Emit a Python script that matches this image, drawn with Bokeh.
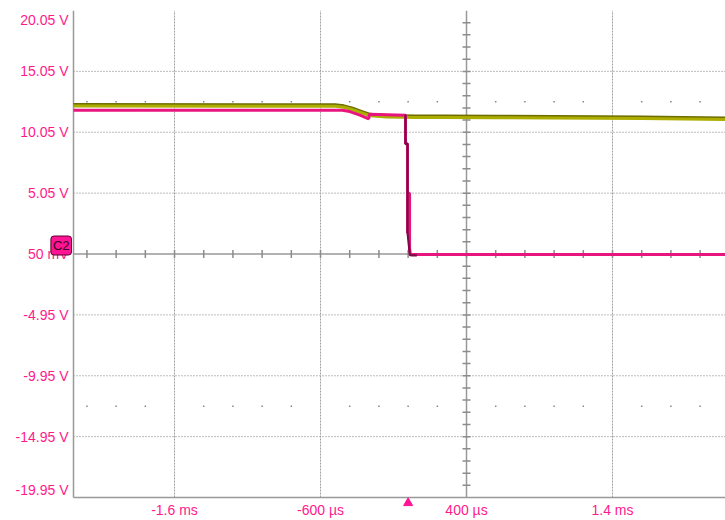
import numpy as np
from bokeh.plotting import figure
from bokeh.models import Range1d, FixedTicker, Label
from bokeh.embed import file_html
from bokeh.resources import INLINE

# ---- data (time in ms, voltage in V) ----
t_ch1 = [-2.292, -0.50, -0.44, -0.38, -0.32, -0.26, -0.15, 0.05, 0.24, 0.60, 1.00, 1.60, 2.174]
v_ch1 = [12.20, 12.18, 12.10, 11.90, 11.65, 11.40, 11.30, 11.26, 11.26, 11.24, 11.22, 11.18, 11.10]

t_ch2 = [-2.292, -0.45, -0.40, -0.33, -0.27, -0.265, -0.02, -0.018, -0.018, -0.004, -0.004,
         0.008, 0.008, 0.010, 0.010, 0.016, 0.20, 1.00, 2.174]
v_ch2 = [11.85, 11.85, 11.75, 11.45, 11.15, 11.52, 11.45, 11.45, 9.10, 9.10, 1.80,
         1.80, 5.05, 5.05, 0.50, 0.00, 0.02, 0.02, 0.02]

t_drop = [-0.022, -0.018, -0.018, -0.004, -0.004, 0.004, 0.012, 0.030, 0.060]
v_drop = [11.45, 11.45, 9.10, 9.10, 1.80, 0.90, -0.05, -0.06, -0.06]

y_ticks = [-19.95, -14.95, -9.95, -4.95, 0.05, 5.05, 10.05, 15.05, 20.05]
y_labels = ["-19.95 V", "-14.95 V", "-9.95 V", "-4.95 V", "50 mV", "5.05 V", "10.05 V", "15.05 V", "20.05 V"]
x_ticks = [-1.6, -0.6, 0.4, 1.4]
x_labels = ["-1.6 ms", "-600 µs", "400 µs", "1.4 ms"]
trigger_t = 0.0
center_t = 0.4
center_v = 0.05

PINK_TXT = "#ff1a8c"
AXIS = "#999999"

# screen display extent (data window)
x0, x1 = -2.292, 2.174
y0, y1 = -19.95, 20.05
px_per_v = 12.2
px_per_ms = 146.0

# frame extends a little beyond the display window (room for channel / trigger markers)
p = figure(width=725, height=520,
           x_range=Range1d(x0 - 25 / px_per_ms, x1),
           y_range=Range1d(y0 - 12 / px_per_v, y1),
           output_backend="svg", toolbar_location=None,
           min_border_left=48, min_border_right=0, min_border_top=10, min_border_bottom=10)
p.outline_line_color = None
p.background_fill_color = "white"
p.border_fill_color = "white"
p.grid.visible = False

# label positions: end labels sit inside the display like the scope screen
y_label_pos = list(y_ticks)
y_label_pos[0] = y_ticks[0] + 8 / px_per_v
y_label_pos[-1] = y_ticks[-1] - 10 / px_per_v

p.yaxis.ticker = FixedTicker(ticks=y_label_pos)
p.yaxis.major_label_overrides = {pos: lab for pos, lab in zip(y_label_pos, y_labels)}
p.xaxis.ticker = FixedTicker(ticks=x_ticks)
p.xaxis.major_label_overrides = {t: lab for t, lab in zip(x_ticks, x_labels)}

for ax in (p.xaxis[0], p.yaxis[0]):
    ax.axis_line_color = None
    ax.major_tick_line_color = None
    ax.minor_tick_line_color = None
    ax.major_tick_out = 0
    ax.major_tick_in = 0
    ax.major_label_text_color = PINK_TXT
    ax.major_label_text_font = "Liberation Sans"
    ax.major_label_text_font_size = "14px"
p.yaxis.major_label_standoff = -20
p.xaxis.major_label_standoff = -8

# dotted grid
hg = [v for v in y_ticks[1:-1] if v != center_v]
p.segment(x0=[x0] * len(hg), y0=hg, x1=[x1] * len(hg), y1=hg,
          line_color="#7a7a7a", line_width=1, line_dash="1 2")
vg = [t for t in x_ticks if t != center_t]
p.segment(x0=vg, y0=[y0] * len(vg), x1=vg, y1=[y1] * len(vg),
          line_color="#a0a0a0", line_width=1, line_dash="2 1")

# display border (left and bottom) and center axes
p.segment(x0=[x0, x0], y0=[y0, y0], x1=[x0, x1], y1=[y1, y0], line_color=AXIS, line_width=1.5)
p.segment(x0=[x0, center_t], y0=[center_v, y0], x1=[x1, center_t], y1=[center_v, y1],
          line_color=AXIS, line_width=1.5)

# center-axis ticks
vt = [round(y0 + k, 2) for k in range(1, int(y1 - y0))]
p.scatter(x=[center_t] * len(vt), y=vt, marker="dash", size=8, line_color="#8c8c8c", line_width=1.5)
ht = [round(-2.2 + 0.2 * k, 2) for k in range(0, 22)]
p.scatter(x=ht, y=[center_v] * len(ht), marker="dash", angle=np.pi / 2, size=8,
          line_color="#8c8c8c", line_width=1.5)

# grid dot rows
dot_t = [t for t in ht if all(abs(t - g) > 1e-6 for g in x_ticks)]
for row in (12.55, -12.45):
    p.scatter(x=dot_t, y=[row] * len(dot_t), marker="square", size=1.5,
              fill_color="#888888", line_color=None)

# traces
p.line(t_ch1, [v + 0.12 for v in v_ch1], line_color="#6e6e00", line_width=3)
p.line(t_ch1, v_ch1, line_color="#adad00", line_width=3)
p.line(t_ch2, v_ch2, line_color="#e8157f", line_width=3)
p.line(t_drop, v_drop, line_color="#7a0b45", line_width=2.2)

# trigger marker
p.scatter(x=[trigger_t], y=[y0 - 5.5 / px_per_v], marker="triangle", size=9,
          fill_color="#ff1493", line_color="#ff1493")

# channel marker
p.add_layout(Label(x=x0, y=center_v + 8.5 / px_per_v, x_offset=-2, text="C2", text_align="right",
                   text_baseline="middle", text_color="#3a0020", text_font_size="13px",
                   text_font="Liberation Sans", background_fill_color="#ff1493",
                   border_line_color="#5a0030", border_line_width=1, padding=2, border_radius=3))

open("out.html", "w").write(file_html(p, INLINE))
